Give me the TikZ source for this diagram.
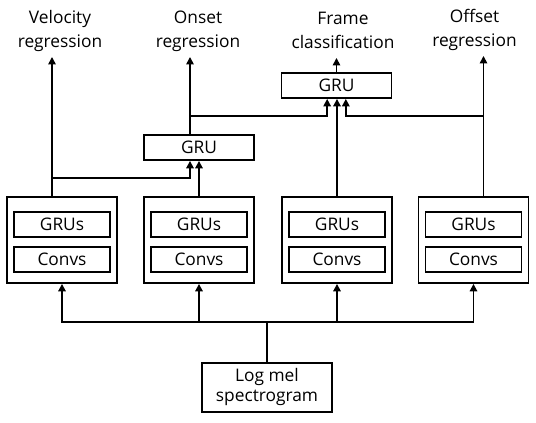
\documentclass[tikz,border=0pt]{standalone}
\usepackage{fontspec}
\setmainfont{Open Sans}
\usetikzlibrary{arrows.meta}
\newcommand{\widthstack}{82.5pt}
\newcommand{\heightstack}{64.5pt}
\newcommand{\widthlayer}{72pt}
\newcommand{\heightlayer}{18.75pt}
\tikzset{
    common/.style={draw, rectangle, line width=1.4pt, inner sep=0pt},
    stack/.style={common, minimum width=\widthstack, minimum height=\heightstack},
    layer/.style={common, minimum width=\widthlayer, minimum height=\heightlayer},
    gru/.style={common, minimum width=\widthstack, minimum height=\heightlayer},
    output/.style={anchor=south, align=center, inner sep=3.5pt, text depth=3.2pt},
    flow/.style={-{Triangle[length=5.5pt, width=5.5pt]}, line width=1.25pt}
}
\begin{document}
\begin{tikzpicture}[x=0.75pt, y=-0.75pt, font=\fontsize{13}{18}\selectfont]
        \useasboundingbox (0,0) rectangle (536,423);

        \foreach \name/\x in {stack1/62, stack2/199, stack3/337, stack4/473.5} {
            \node[stack] (\name) at (\x,240) {};
            \node[layer] (\name-grus) at (\x,224.5) {GRUs};
            \node[layer] (\name-convs) at (\x,259.5) {Convs};
        }

        \node[gru] (onsetGRU) at (199,147.5) {GRU};
        \node[gru] (frameGRU) at (336.5,85.5) {GRU};
        \node[common, minimum width=97.5pt, minimum height=36.75pt, align=center, font=\fontsize{13}{15}\selectfont] (logmel) at (267,387.5) {Log mel\\spectrogram};

        \node[output] (velocity) at (60,57) {Velocity\\regression};
        \node[output] (onset) at (198,57) {Onset\\regression};
        \node[output] (frame) at (343,58) {Frame\\classification};
        \node[output] (offset) at (474.5,56) {Offset\\regression};

        \coordinate (bus) at ([yshift=30pt]logmel.north);
        \coordinate (out1) at ([xshift=-7.5pt]stack1.north);
        \coordinate (out4) at ([xshift=7.5pt]stack4.north);
        \coordinate (split1) at ([yshift=13.5pt]out1);
        \coordinate (onsetIn) at ([xshift=-6.75pt]onsetGRU.south);
        \coordinate (onsetOut) at ([xshift=-6.75pt]onsetGRU.north);
        \coordinate (split2) at ([yshift=13.5pt]onsetOut);
        \coordinate (frameInL) at ([xshift=-7pt]frameGRU.south);
        \coordinate (frameInR) at ([xshift=7pt]frameGRU.south);

        \draw[line width=1.25pt] (logmel.north) -- (bus);
        \foreach \name in {stack1, stack2, stack3, stack4}
            \draw[flow] (bus) -| (\name.south);

        \draw[flow] (out1) -- (out1 |- velocity.south);
        \draw[flow] (split1) -| (onsetIn);
        \draw[flow] (stack2.north) -- (stack2.north |- onsetGRU.south);
        \draw[flow] (onsetOut) -- (onsetOut |- onset.south);
        \draw[flow] (split2) -| (frameInL);
        \draw[flow] (stack3.north) -- (stack3.north |- frameGRU.south);
        \draw[flow] (frameGRU.north) -- (frameGRU.north |- frame.south);
        \draw[flow] (out4) -- (out4 |- offset.south);
        \draw[flow] (out4 |- split2) -| (frameInR);
    \end{tikzpicture}
\end{document}
